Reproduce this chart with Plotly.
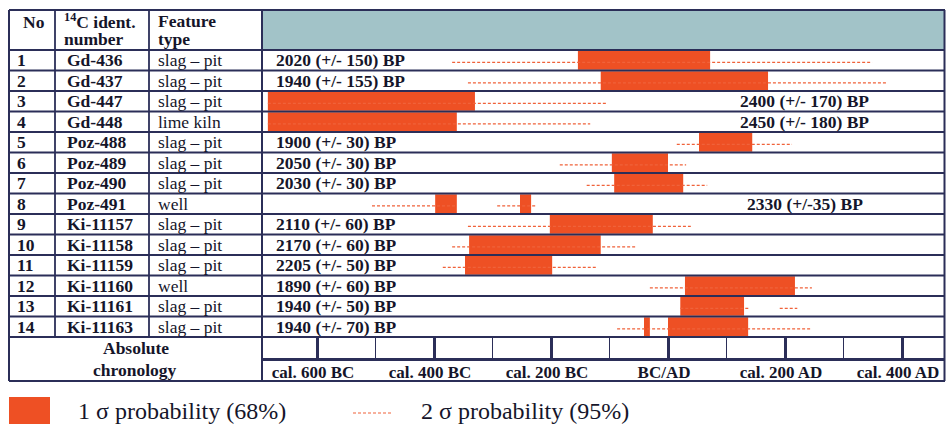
import plotly.graph_objects as go

W, H = 946, 424

# ---------------- data ----------------
row_no = list(range(1, 15))
idents = ["Gd-436", "Gd-437", "Gd-447", "Gd-448", "Poz-488", "Poz-489", "Poz-490",
          "Poz-491", "Ki-11157", "Ki-11158", "Ki-11159", "Ki-11160", "Ki-11161", "Ki-11163"]
features = ["slag – pit", "slag – pit", "slag – pit", "lime kiln", "slag – pit", "slag – pit",
            "slag – pit", "well", "slag – pit", "slag – pit", "slag – pit", "well",
            "slag – pit", "slag – pit"]
bp_labels = ["2020 (+/- 150) BP", "1940 (+/- 155) BP", "2400 (+/- 170) BP", "2450 (+/- 180) BP",
             "1900 (+/- 30) BP", "2050 (+/- 30) BP", "2030 (+/- 30) BP", "2330 (+/-35) BP",
             "2110 (+/- 60) BP", "2170 (+/- 60) BP", "2205 (+/- 50) BP", "1890 (+/- 60) BP",
             "1940 (+/- 50) BP", "1940 (+/- 70) BP"]
bp_label_right = [False, False, True, True, False, False, False, True,
                  False, False, False, False, False, False]

# 1 sigma ranges (calendar years; negative = BC)
s1_row = [1, 2, 3, 4, 5, 6, 7, 8, 8, 9, 10, 11, 12, 13, 14, 14]
s1_start = [-154, -115, -684, -684, 53, -96, -92, -398, -253, -202, -340, -347, 29, 21, -41, 0]
s1_end = [72, 171, -330, -361, 144, 0, 26, -361, -234, -26, -115, -198, 217, 130, -31, 137]

# 2 sigma ranges
s2_row = [1, 2, 3, 4, 5, 6, 7, 8, 8, 9, 10, 11, 12, 13, 13, 14]
s2_start = [-369, -342, -684, -684, 15, -185, -139, -506, -292, -342, -369, -385, -31, 21, 191, -87]
s2_end = [349, 376, -106, -133, 212, 31, 67, -361, -226, 39, -56, -121, 246, 140, 221, 246]

axis_tickvals = [-600, -400, -200, 0, 200, 400]
axis_ticktext = ["cal. 600 BC", "cal. 400 BC", "cal. 200 BC", "BC/AD", "cal. 200 AD", "cal. 400 AD"]
axis_minorvals = [-500, -300, -100, 100, 300]

# ---------------- style ----------------
BAR = "#EE5024"
DASH = "#F0623A"
TEAL = "#A2C3C8"
LINE = "#2B2E58"
TXT = "#15152a"
SERIF = "Liberation Serif, Times New Roman, serif"
FS = 17.5


def px(x):
    return x / W


def py(y):
    return 1 - y / H


X_L, X_R = 262, 945          # chart column in pixels
X0_PX, PX_PER_YEAR = 668, 0.585
xrange = [(X_L - X0_PX) / PX_PER_YEAR, (X_R - X0_PX) / PX_PER_YEAR]
ROW_TOP, ROW_BOT = 50, 337
TICK_BOT = 358

fig = go.Figure()

# 2 sigma dashed lines
dx, dy = [], []
for r, a, b in zip(s2_row, s2_start, s2_end):
    dx += [a, b, None]
    dy += [r + 0.1, r + 0.1, None]
fig.add_trace(go.Scatter(x=dx, y=dy, mode="lines",
                         line=dict(color=DASH, width=1.2, dash="3px,2px"),
                         hoverinfo="skip", showlegend=False))

# 1 sigma bars
fig.add_trace(go.Bar(y=s1_row, x=[e - s for s, e in zip(s1_start, s1_end)], base=s1_start,
                     orientation="h", width=0.92, marker=dict(color=BAR, line=dict(width=0)),
                     showlegend=False, hoverinfo="skip"))

# dummy trace for tick row axis
fig.add_trace(go.Scatter(x=[xrange[0]], y=[0], xaxis="x2", yaxis="y2", mode="markers",
                         marker=dict(opacity=0), showlegend=False, hoverinfo="skip"))

shapes = []
# header fill
shapes.append(dict(type="rect", xref="paper", yref="paper", x0=px(X_L), x1=px(X_R),
                   y0=py(50), y1=py(10), fillcolor=TEAL, line=dict(width=0), layer="below"))


def hline(y, x0, x1, w=1.8):
    shapes.append(dict(type="line", xref="paper", yref="paper", x0=px(x0), x1=px(x1),
                       y0=py(y), y1=py(y), line=dict(color=LINE, width=w)))


def vline(x, y0, y1, w=1.8):
    shapes.append(dict(type="line", xref="paper", yref="paper", x0=px(x), x1=px(x),
                       y0=py(y0), y1=py(y1), line=dict(color=LINE, width=w)))


hline(10, 9, 945, 2)
hline(ROW_TOP, 9, 945, 2)
for k in range(1, 14):
    shapes.append(dict(type="line", xref="paper", yref="y", x0=px(9), x1=px(945),
                       y0=k + 0.5, y1=k + 0.5, line=dict(color=LINE, width=1.8)))
hline(ROW_BOT, 9, 945, 2.2)
hline(381, 9, 945, 2)
vline(9, 10, 381, 2)
vline(55, 10, ROW_BOT)
vline(149, 10, ROW_BOT)
vline(X_L, 10, 381, 2)
vline(944.5, 10, 381, 2)

# legend
shapes.append(dict(type="rect", xref="paper", yref="paper", x0=px(9), x1=px(50),
                   y0=py(424), y1=py(397), fillcolor=BAR, line=dict(width=0)))
shapes.append(dict(type="line", xref="paper", yref="paper", x0=px(353), x1=px(392),
                   y0=py(413), y1=py(413), line=dict(color=DASH, width=1.2, dash="3px,2px")))

ann = []


def text(t, x, y, size=FS, bold=True, xanchor="left", xref="paper", yref="paper"):
    ann.append(dict(text=f"<b>{t}</b>" if bold else t, x=x, y=y, xref=xref, yref=yref,
                    xanchor=xanchor, yanchor="middle", showarrow=False,
                    font=dict(family=SERIF, size=size, color=TXT)))


# header
text("No", px(34), py(22), FS, True, "center")
text("<sup>14</sup>C ident.", px(62), py(21), FS, True)
text("number", px(62), py(39), FS, True)
text("Feature", px(156), py(21), FS, True)
text("type", px(156), py(39), FS, True)

for r, idt, ft, lab, right in zip(row_no, idents, features, bp_labels, bp_label_right):
    text(str(r), px(15), r, FS, True, yref="y")
    text(idt, px(65), r, FS, True, yref="y")
    text(ft, px(156), r, FS, False, yref="y")
    if right:
        text(lab, 234, r, FS, True, "center", xref="x", yref="y")
    else:
        text(lab, -673, r, FS, True, "left", xref="x", yref="y")

text("Absolute", px(136), py(348), FS, True, "center")
text("chronology", px(135), py(370), FS, True, "center")

text("1 σ probability (68%)", px(76), py(411), 24, False)
text("2 σ probability (95%)", px(419), py(411), 24, False)

fig.update_layout(
    width=W, height=H, margin=dict(l=0, r=0, t=0, b=0),
    paper_bgcolor="white", plot_bgcolor="rgba(0,0,0,0)",
    barmode="overlay", showlegend=False,
    shapes=shapes, annotations=ann,
    xaxis=dict(domain=[px(X_L), px(X_R)], range=xrange, visible=False, fixedrange=True),
    yaxis=dict(domain=[py(ROW_BOT), py(ROW_TOP)], range=[14.5, 0.5], visible=False,
               fixedrange=True),
    xaxis2=dict(domain=[px(X_L), px(X_R)], range=xrange, anchor="y2", side="bottom",
                showline=True, linecolor=LINE, linewidth=3, showgrid=False, zeroline=False,
                tickmode="array", tickvals=axis_tickvals,
                ticktext=[f"<b>{t}</b>" for t in axis_ticktext],
                ticks="inside", ticklen=21, tickwidth=3, tickcolor=LINE,
                minor=dict(tickmode="array", tickvals=axis_minorvals, ticks="inside",
                           ticklen=21, tickwidth=1.2, tickcolor=LINE, showgrid=False),
                tickfont=dict(family=SERIF, size=17, color=TXT),
                ticklabelshift=-4, ticklabelstandoff=-3),
    yaxis2=dict(domain=[py(TICK_BOT), py(ROW_BOT)], range=[0, 1], visible=False,
                fixedrange=True),
)

fig.write_html("out.html", config={"displayModeBar": False, "staticPlot": True},
               post_script="document.body.style.margin='0';document.body.style.padding='0';")
